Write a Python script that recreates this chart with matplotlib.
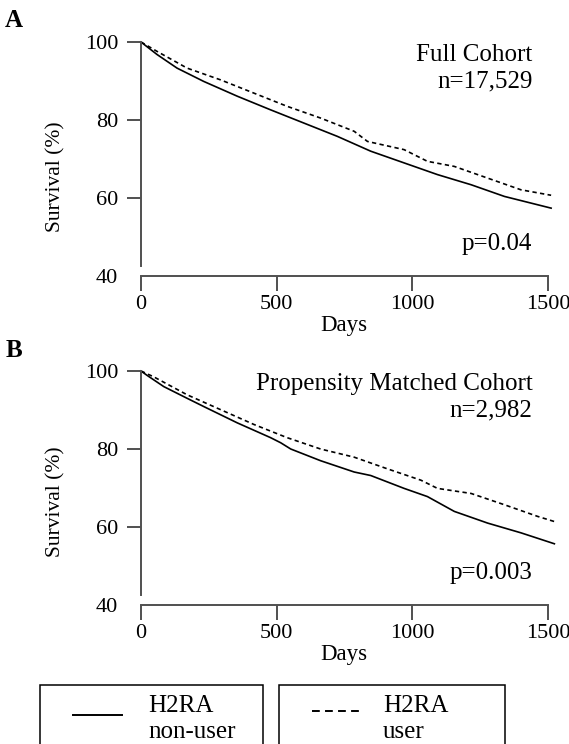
import matplotlib
matplotlib.use("Agg")
import matplotlib.pyplot as plt
from matplotlib.patches import Rectangle
from matplotlib.lines import Line2D

plt.rcParams['font.family'] = ['Liberation Serif', 'DejaVu Serif']

# survival curves (days, survival %)
full_days_non = [0, 59, 133, 231, 355, 478, 601, 724, 847, 970, 1093, 1217, 1340, 1512]
full_surv_non = [100, 96.8, 93.3, 89.9, 86.1, 82.6, 79.2, 75.8, 72.0, 69.0, 66.0, 63.4, 60.4, 57.4]
full_days_user = [0, 59, 170, 293, 416, 539, 662, 786, 835, 970, 1056, 1155, 1278, 1401, 1512]
full_surv_user = [100, 97.6, 93.3, 90.3, 86.9, 83.5, 80.5, 77.1, 74.5, 72.4, 69.4, 68.1, 65.1, 62.1, 60.7]

pm_days_non = [0, 22, 84, 170, 231, 355, 478, 515, 552, 662, 786, 847, 970, 1056, 1155, 1278, 1401, 1524]
pm_surv_non = [100, 98.9, 96.0, 93.0, 90.9, 86.7, 82.9, 81.6, 80.0, 77.0, 74.1, 73.2, 69.9, 67.8, 64.0, 61.0, 58.5, 55.7]
pm_days_user = [0, 47, 170, 293, 416, 539, 662, 786, 909, 1032, 1093, 1217, 1340, 1463, 1524]
pm_surv_user = [100, 98.5, 93.9, 90.1, 86.3, 82.9, 80.0, 77.9, 74.9, 72.0, 69.9, 68.6, 65.7, 62.7, 61.4]

x_ticks = [0, 500, 1000, 1500]
y_ticks = [40, 60, 80, 100]
group_names = ["H2RA\nnon-user", "H2RA\nuser"]

W, H = 569, 744
spine_col = '#505050'
dash_plot = (2.6, 2.0)


def fx(px):
    return px / W


def fy(py):
    return 1 - py / H


def panel(ax, d_non, s_non, d_user, s_user, title, n_txt, p_txt, lab_y):
    ax.plot(d_non, s_non, color='black', lw=1.2, clip_on=False)
    ax.plot(d_user, s_user, color='black', lw=1.2, ls=(0, dash_plot), clip_on=False)
    ax.set_xlim(0, 1530)
    ax.set_ylim(40, 100)
    for s in ['top', 'right']:
        ax.spines[s].set_visible(False)
    for s in ['left', 'bottom']:
        ax.spines[s].set_color(spine_col)
        ax.spines[s].set_linewidth(1.4)
    ax.spines['left'].set_bounds(42.5, 100)
    ax.spines['bottom'].set_bounds(0, 1500)
    ax.set_xticks(x_ticks)
    ax.set_yticks(y_ticks)
    ax.tick_params(axis='x', length=10.8, width=1.4, color=spine_col, pad=3.0, labelsize=16)
    ax.tick_params(axis='y', length=10, width=1.4, color=spine_col, pad=6.5, labelsize=16)
    ax.yaxis.get_major_ticks()[0].tick1line.set_visible(False)
    ax.set_xlabel("Days", fontsize=16.5)
    ax.xaxis.set_label_coords(0.49, -0.168)
    ax.set_ylabel("Survival (%)", fontsize=15.5)
    ax.yaxis.set_label_coords(-0.181, lab_y)
    ax.text(0.943, 0.919, title, transform=ax.transAxes, ha='right', va='baseline', fontsize=18)
    ax.text(0.943, 0.805, n_txt, transform=ax.transAxes, ha='right', va='baseline', fontsize=18)
    ax.text(0.943, 0.113, p_txt, transform=ax.transAxes, ha='right', va='baseline', fontsize=18)


fig = plt.figure(figsize=(W / 100, H / 100), dpi=100)

ax1 = fig.add_axes([fx(141), fy(276), fx(556) - fx(141), fy(42) - fy(276)])
panel(ax1, full_days_non, full_surv_non, full_days_user, full_surv_user,
      "Full Cohort", "n=17,529", "p=0.04", 0.423)

ax2 = fig.add_axes([fx(141), fy(605), fx(556) - fx(141), fy(371) - fy(605)])
panel(ax2, pm_days_non, pm_surv_non, pm_days_user, pm_surv_user,
      "Propensity Matched Cohort", "n=2,982", "p=0.003", 0.44)

fig.text(fx(5), fy(27), "A", fontsize=18, fontweight='bold', ha='left', va='baseline')
fig.text(fx(6), fy(357), "B", fontsize=18, fontweight='bold', ha='left', va='baseline')

# legend boxes at the bottom
boxes = [(40, 263, 73, 122, 715, 148, '-'), (279, 505, 312, 362, 711, 383, (0, (4, 2.7)))]
for (bx0, bx1, lx0, lx1, ly, tx, ls), name in zip(boxes, group_names):
    fig.add_artist(Rectangle((fx(bx0), fy(770)), fx(bx1) - fx(bx0), fy(685) - fy(770),
                             transform=fig.transFigure, fill=False, edgecolor='black', lw=1.1))
    fig.add_artist(Line2D([fx(lx0), fx(lx1)], [fy(ly), fy(ly)], transform=fig.transFigure,
                          color='black', lw=1.4, ls=ls))
    l1, l2 = name.split("\n")
    fig.text(fx(tx), fy(712), l1, fontsize=18, ha='left', va='baseline')
    fig.text(fx(tx), fy(738), l2, fontsize=18, ha='left', va='baseline')

fig.savefig("out.png", dpi=100)
